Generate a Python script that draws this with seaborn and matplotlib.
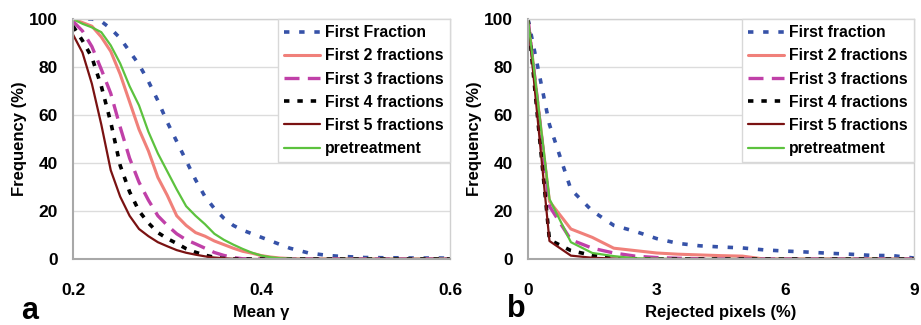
import numpy as np
import pandas as pd
import seaborn as sns
import matplotlib
matplotlib.use("Agg")
import matplotlib.pyplot as plt

# ---------------- data: panel a (Mean gamma) ----------------
gamma = [0.20, 0.21, 0.22, 0.23, 0.24, 0.25, 0.26, 0.27, 0.28, 0.29,
         0.30, 0.31, 0.32, 0.33, 0.34, 0.35, 0.36, 0.37, 0.38, 0.39,
         0.40, 0.41, 0.42, 0.43, 0.44, 0.45, 0.46, 0.47, 0.48, 0.49,
         0.50, 0.51, 0.52, 0.53, 0.54, 0.55, 0.56, 0.57, 0.58, 0.59, 0.60]
a_first1 = [100, 100, 100, 99, 96, 92, 86.5, 81, 74, 66,
            57, 49, 41, 33, 26, 21, 17, 14, 12, 10.5,
            9, 7.5, 6, 4.5, 3.5, 2.5, 2, 1.5, 1.2, 1,
            0.8, 0.6, 0.6, 0.5, 0.5, 0.5, 0.4, 0.4, 0.4, 0.4, 0.3]
a_first2 = [100, 98.5, 97, 92.5, 86.5, 77, 65.5, 54, 45, 34,
            26.5, 18, 14, 11, 9.5, 7.5, 6, 4.5, 3.2, 2.4,
            1.4, 0.8, 0.4, 0.2, 0, 0, 0, 0, 0, 0,
            0, 0, 0, 0, 0, 0, 0, 0, 0, 0, 0]
a_first3 = [99, 95, 88.5, 79, 69, 55, 42, 32, 24.5, 18,
            14, 10.5, 8, 6.3, 4.5, 2.7, 1.5, 0.6, 0.1, 0,
            0, 0, 0, 0, 0, 0, 0, 0, 0, 0,
            0, 0, 0, 0, 0, 0, 0, 0, 0, 0, 0]
a_first4 = [97, 91, 84, 72, 57, 39, 28, 20, 15, 11,
            8.5, 6.5, 4.3, 2.8, 1.6, 0.7, 0.2, 0, 0, 0,
            0, 0, 0, 0, 0, 0, 0, 0, 0, 0,
            0, 0, 0, 0, 0, 0, 0, 0, 0, 0, 0]
a_first5 = [93.5, 86, 73, 56, 37, 26, 18, 12.5, 9.5, 7,
            5.3, 3.7, 2.6, 1.8, 1.1, 0.6, 0.3, 0.1, 0, 0,
            0, 0, 0, 0, 0, 0, 0, 0, 0, 0,
            0, 0, 0, 0, 0, 0, 0, 0, 0, 0, 0]
a_pre = [100, 98, 96.5, 94.5, 89, 81.5, 72, 64, 53, 44,
         36.5, 29, 22, 18, 14.5, 10.5, 8, 6, 4.2, 2.6,
         1.4, 0.7, 0.3, 0.1, 0, 0, 0, 0, 0, 0,
         0, 0, 0, 0, 0, 0, 0, 0, 0, 0, 0]

# ---------------- data: panel b (Rejected pixels %) ----------------
rejected = [0, 0.5, 1.0, 1.5, 2.0, 2.5, 3.0, 3.5, 4.0, 4.5,
            5.0, 5.5, 6.0, 6.5, 7.0, 7.5, 8.0, 8.5, 9.0]
b_first1 = [100, 56, 29, 20, 14, 11.5, 8.5, 6.5, 5.5, 5,
            4.6, 3.8, 3.3, 2.9, 2.4, 2, 1.5, 1.4, 0.4]
b_first2 = [100, 24, 12.5, 9, 4.5, 3.5, 2.5, 2, 1.7, 1.4,
            1.2, 0, 0, 0, 0, 0, 0, 0, 0]
b_first3 = [100, 22, 8, 4.5, 2.5, 1.2, 0.6, 0.3, 0.1, 0,
            0, 0, 0, 0, 0, 0, 0, 0, 0]
b_first4 = [100, 8, 3.5, 1.5, 0.5, 0.1, 0, 0, 0, 0,
            0, 0, 0, 0, 0, 0, 0, 0, 0]
b_first5 = [100, 7.5, 1.4, 0.5, 0.2, 0, 0, 0, 0, 0,
            0, 0, 0, 0, 0, 0, 0, 0, 0]
b_pre = [100, 25, 7, 2.5, 1.2, 0.3, 0.1, 0, 0, 0,
         0, 0, 0, 0, 0, 0, 0, 0, 0]

labels_a = ["First Fraction", "First 2 fractions", "First 3 fractions",
            "First 4 fractions", "First 5 fractions", "pretreatment"]
labels_b = ["First fraction", "First 2 fractions", "Frist 3 fractions",
            "First 4 fractions", "First 5 fractions", "pretreatment"]

# ---------------- styling ----------------
sns.set_theme(style="white")
plt.rcParams['font.family'] = ['Liberation Sans', 'DejaVu Sans']
plt.rcParams['font.weight'] = 'bold'
plt.rcParams['text.color'] = 'black'
plt.rcParams['axes.labelcolor'] = 'black'

colors = ["#3652A8", "#F0807A", "#C040A8", "#000000", "#7A1212", "#5CC23E"]
styles = [(0, (1.5, 2.7)), "-", (0, (4.5, 2.5)), (0, (1.5, 2.2)), "-", "-"]
widths = [2.6, 2.2, 2.4, 2.6, 1.6, 1.6]

fig = plt.figure(figsize=(9.21, 3.25), dpi=100)
ax_a = fig.add_axes([0.0793, 0.2031, 0.4093, 0.7385])
ax_b = fig.add_axes([0.5733, 0.2031, 0.4191, 0.7385])


def draw(ax, x, series, labels, xlim, xticks, xticklabels, xlabel):
    for s, lab, c, ls, lw in zip(series, labels, colors, styles, widths):
        sns.lineplot(x=x, y=s, ax=ax, color=c, linestyle=ls, linewidth=lw,
                     label=lab)
    ax.set_xlim(*xlim)
    ax.set_ylim(0, 100)
    ax.set_yticks([0, 20, 40, 60, 80, 100])
    ax.set_yticklabels(["0", "20", "40", "60", "80", "100"],
                       fontsize=12.5, fontweight='bold')
    ax.set_xticks(xticks)
    ax.set_xticklabels(xticklabels, fontsize=12.5, fontweight='bold')
    ax.tick_params(axis='x', length=4, width=1, color="#B0B0B0", pad=13,
                   labelcolor='black')
    ax.tick_params(axis='y', length=0, pad=11, labelcolor='black')
    ax.yaxis.grid(True, color="#DCDCDC", linewidth=1)
    ax.set_axisbelow(True)
    for sp in ["top", "right"]:
        ax.spines[sp].set_color("#D0D0D0")
        ax.spines[sp].set_linewidth(1)
    for sp in ["left", "bottom"]:
        ax.spines[sp].set_color("#A8A8A8")
        ax.spines[sp].set_linewidth(1.5)
    ax.set_ylabel("Frequency (%)", fontsize=12, fontweight='bold', labelpad=1)
    ax.set_xlabel(xlabel, fontsize=12, fontweight='bold', labelpad=5)
    leg = ax.legend(loc="upper right", frameon=True, fancybox=False,
                    framealpha=1, edgecolor="#D8D8D8", borderaxespad=0,
                    handlelength=2.3, handletextpad=0.3,
                    labelspacing=0.52, borderpad=0.4,
                    prop={'weight': 'bold', 'size': 11.3})
    leg.get_frame().set_linewidth(1)
    for t in leg.get_texts():
        t.set_color('black')


draw(ax_a, gamma, [a_first1, a_first2, a_first3, a_first4, a_first5, a_pre],
     labels_a, (0.2, 0.6), [0.2, 0.4, 0.6], ["0.2", "0.4", "0.6"], "Mean γ")
draw(ax_b, rejected, [b_first1, b_first2, b_first3, b_first4, b_first5, b_pre],
     labels_b, (0, 9), [0, 3, 6, 9], ["0", "3", "6", "9"], "Rejected pixels (%)")

fig.text(0.023, 1 - 319 / 325, "a", fontsize=22, fontweight='bold',
         va='baseline')
fig.text(0.550, 0.002, "b", fontsize=22, fontweight='bold', va='bottom')

fig.savefig("out.png", dpi=100)
